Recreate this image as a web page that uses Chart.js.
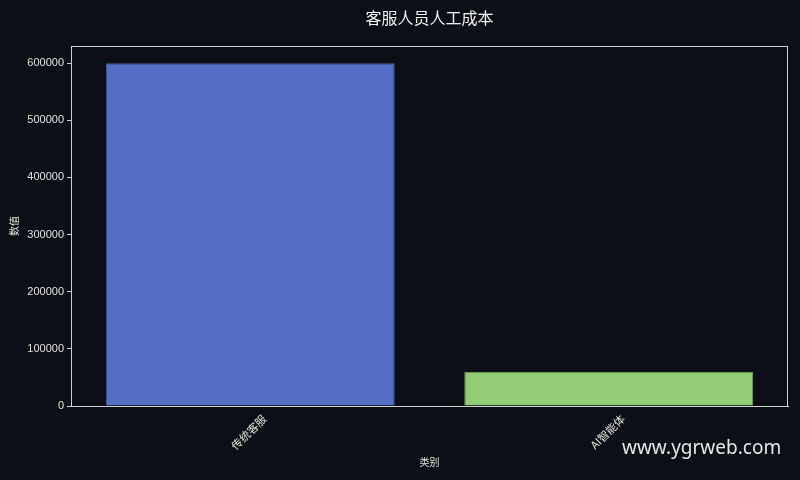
<!DOCTYPE html>
<html>
<head>
<meta charset="utf-8">
<script src="https://cdn.jsdelivr.net/npm/chart.js@4.4.1/dist/chart.umd.min.js"></script>
<style>
  html, body { margin: 0; padding: 0; background: #0c0f16; }
  #wrap { position: relative; width: 800px; height: 480px; }
  #wm { position: absolute; left: 622px; top: 434px; font-family: "Noto Sans", "Open Sans", sans-serif; font-size: 19px; color: #e6e6e6; white-space: nowrap; }
</style>
</head>
<body>
<div id="wrap">
  <canvas id="c" width="800" height="480"></canvas>
  <div id="wm">www.ygrweb.com</div>
</div>
<script>
const categories = ["传统客服", "AI智能体"];
const values = [600000, 60000];
const barColors = ["#5470c6", "#91cc75"];
const yTicks = [0, 100000, 200000, 300000, 400000, 500000, 600000];
const chartTitle = "客服人员人工成本";
const xTitle = "类别";
const yTitle = "数值";

const FONT = "'Liberation Sans', 'Noto Sans CJK SC', sans-serif";
const CJK = "'Noto Sans CJK SC', 'Liberation Sans', sans-serif";

const framePlugin = {
  id: 'frame',
  afterDatasetsDraw(chart) {
    const {ctx, chartArea: a} = chart;
    ctx.save();
    ctx.strokeStyle = '#d0d0d0';
    ctx.lineWidth = 1;
    ctx.strokeRect(a.left + 0.5, a.top + 0.5, a.right - a.left - 1, a.bottom - a.top);
    ctx.restore();
  },
  afterDraw(chart) {
    const {ctx, chartArea: a} = chart;
    ctx.save();
    ctx.fillStyle = '#f0f0f0';
    ctx.font = "16px " + CJK;
    ctx.textAlign = 'center';
    ctx.textBaseline = 'middle';
    ctx.fillText(chartTitle, (a.left + a.right) / 2, 18);
    ctx.restore();
  }
};

new Chart(document.getElementById('c'), {
  type: 'bar',
  data: {
    labels: categories,
    datasets: [{
      data: values,
      backgroundColor: barColors,
      borderColor: ['#44589e', '#74a35e'],
      borderWidth: 1,
      categoryPercentage: 1.0,
      barPercentage: 0.806
    }]
  },
  options: {
    responsive: false,
    animation: false,
    devicePixelRatio: 1,
    layout: { padding: { left: 0, right: 12, top: 46, bottom: 0 } },
    plugins: {
      legend: { display: false },
      tooltip: { enabled: false },
      title: { display: false }
    },
    scales: {
      x: {
        afterFit(s) { s.height = 74; },
        grid: { display: false, drawOnChartArea: false, drawTicks: true, tickLength: 4, tickColor: '#d0d0d0' },
        border: { display: true, color: '#d0d0d0' },
        ticks: {
          color: '#e0e0e0',
          font: { family: CJK, size: 11 },
          maxRotation: 45, minRotation: 45,
          padding: 2,
          labelOffset: 14
        },
        title: {
          display: true, text: xTitle, color: '#e0e0e0',
          font: { family: CJK, size: 10 },
          padding: { top: 0, bottom: 12 }
        }
      },
      y: {
        min: 0, max: 630000,
        afterFit(s) { s.width = 71; },
        afterBuildTicks(s) { s.ticks = yTicks.map(v => ({ value: v })); },
        grid: { drawOnChartArea: false, drawTicks: true, tickLength: 4, tickColor: '#d0d0d0' },
        border: { display: true, color: '#d0d0d0' },
        ticks: {
          color: '#e0e0e0',
          font: { family: FONT, size: 11 },
          padding: 3,
          callback: (v) => String(v)
        },
        title: {
          display: true, text: yTitle, color: '#e0e0e0',
          font: { family: CJK, size: 10 },
          padding: { top: 8, bottom: 0 }
        }
      }
    }
  },
  plugins: [framePlugin]
});
</script>
</body>
</html>
